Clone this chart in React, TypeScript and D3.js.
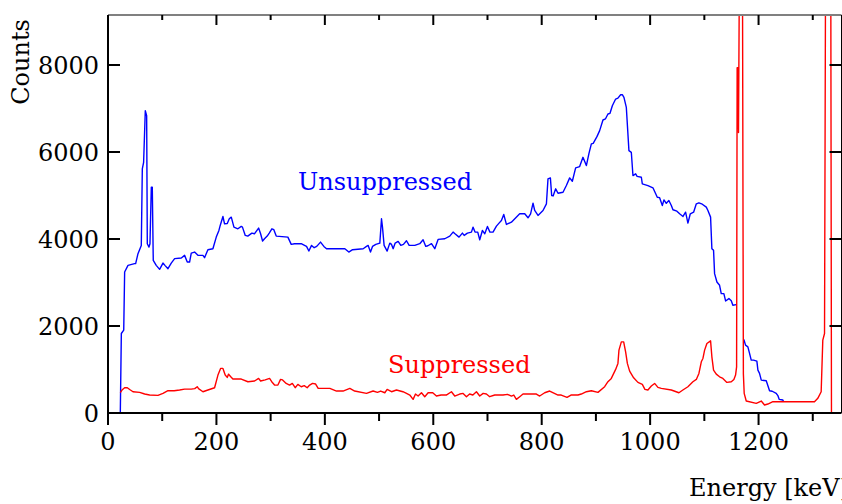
import React from "react";
import * as d3 from "d3";

// ---------- data ----------
const blueEnergy = [
  22.7, 24.6, 29, 30.7, 36.9, 49, 51, 55.3, 61.4, 63.3, 65.7, 68.8, 71.3, 72.5, 75.6, 77.4, 79.9, 81.7, 83.5, 89,
  95.2, 101.4, 105, 110.6, 116.7, 122.9, 135.2, 141.3, 146.2, 150.5, 153.6, 159.7, 165.9, 175.1, 178.1, 184.3, 193.5, 199.7, 204.6, 207,
  212, 215, 220, 223.7, 227.4, 232.3, 239.6, 245.8, 248, 253.2, 257.8, 265.4, 270.1, 277.8, 281.5, 285.1, 288.7, 293.7, 297.4, 302.3,
  305.9, 310.3, 331.8, 338, 344, 356.4, 362.5, 366.2, 370.5, 375.5, 380.3, 385, 392, 398.2, 403.1, 415.4, 436.9, 444.2, 451.1, 470.7,
  476.8, 479.9, 484.2, 487.9, 494, 501.4, 504.5, 506.3, 509.3, 514.9, 519.8, 523, 526, 529.7, 535.2, 540.1, 545, 550.6, 555.5, 565.9,
  575.1, 581.2, 586.2, 590, 596.7, 602.8, 608.9, 621.2, 630.4, 636.5, 640.1, 647.5, 653.7, 657, 663, 670.4, 673.3, 677, 682, 685.7,
  690.6, 695, 699.9, 704.5, 710.2, 716.5, 721.3, 725.7, 730, 734.9, 744.1, 759.4, 768.7, 774.8, 779.5, 784, 787.1, 793.2, 802.4, 808.7,
  811.6, 816, 818.4, 821, 825.8, 830.1, 839.3, 845.5, 851.6, 856.5, 862.6, 870, 876.1, 882.4, 887.2, 891.6, 895, 901.9, 906.9, 913,
  917.5, 922.2, 926, 930.3, 936.4, 940.6, 945.6, 948.7, 951.7, 956.1, 960.9, 965.3, 968.3, 973.3, 976, 983.8, 985.6, 995.9, 1005.2, 1013.2,
  1017.5, 1022.5, 1025.5, 1029.8, 1034.6, 1039.1, 1042.1, 1049.4, 1054.4, 1060.6, 1065.4, 1069.7, 1074.1, 1080.2, 1085.2, 1090, 1096.2, 1103.6, 1106.6, 1111.5,
  1113.9, 1117, 1118.9, 1123.2, 1128.1, 1131.2, 1136, 1139.2, 1145.3, 1149.7, 1152.6, 1158.8, 1166,
  1172.9, 1176, 1180.3, 1183.4, 1186.5, 1190.7, 1196.9, 1198.8, 1201.8, 1205, 1214.2, 1220.3, 1225.2, 1232.6, 1235.6, 1238, 1244.8, 1246.2,
];
const blueCounts: (number | null)[] = [
  0, 1828, 1904, 3241, 3394, 3433, 3433, 3663, 3853, 5612, 5764, 6950, 6835, 3892, 3814, 3892, 5190, 5190, 3509, 3394,
  3303, 3447, 3394, 3318, 3447, 3548, 3562, 3624, 3471, 3471, 3677, 3700, 3624, 3624, 3571, 3754, 3777, 4044, 4197, 4312,
  4518, 4350, 4358, 4465, 4503, 4273, 4235, 4289, 4273, 4083, 4067, 4136, 4120, 4251, 4120, 3953, 4006, 4067, 4136, 4235,
  4213, 4067, 4044, 3876, 3892, 3892, 3853, 3830, 3723, 3853, 3800, 3830, 3929, 3830, 3777, 3777, 3777, 3700, 3754, 3777,
  3830, 3853, 3700, 3830, 3876, 3906, 4465, 4273, 3853, 3723, 3906, 3876, 3777, 3906, 3945, 3853, 3876, 3960, 3853, 3853,
  3892, 3983, 3830, 3845, 3892, 3777, 3991, 4006, 4067, 4159, 4120, 4044, 4136, 4083, 4136, 4159, 4273, 4159, 4159, 3983,
  4197, 4120, 4289, 4159, 4159, 4296, 4365, 4427, 4564, 4335, 4388, 4580, 4580, 4488, 4580, 4823, 4656, 4541, 4656, 4809,
  5383, 5406, 5000, 4990, 5154, 5053, 5076, 5229, 5406, 5328, 5635, 5665, 5878, 5688, 5970, 6186, 6200, 6353, 6491, 6736,
  6760, 6874, 6890, 7064, 7218, 7240, 7317, 7317, 7255, 7025, 6032, 5993, 5459, 5498, 5440, 5420, 5268, 5229, 5177, 4961,
  4950, 4771, 4900, 4820, 4885, 4771, 4672, 4640, 4580, 4518, 4617, 4365, 4580, 4617, 4809, 4832, 4800, 4732, 4656, 4503,
  3777, 3739, 3204, 3011, 2936, 2745, 2745, 2576, 2631, 2580, 2477, 2493, null,
  1690, 1560, 1521, 1369, 1216, 1216, 1193, 986, 911, 757, 741, 511, 500, 452, 400, 314, 298, 259,
];

const redEnergy = [
  22.7, 25.8, 30.7, 35.6, 40, 46.1, 58.4, 67.6, 76.8, 92.2, 101.4, 110.6, 122, 132.1, 141.3, 153.6, 160, 164.6, 167, 175.1,
  184.3, 196.6, 202.8, 207.7, 212, 216.2, 219.9, 222.4, 226, 230.4, 245.8, 258.1, 270.4, 277.8, 281.5, 290, 298, 302, 307.2, 313.4,
  318.3, 322, 328.7, 334.9, 340, 345.3, 350.2, 356.4, 362, 367.4, 372, 377.3, 383, 387.7, 409.2, 421.5, 433.5, 446.1, 455, 476.8,
  489, 497, 503, 510.6, 514.9, 523, 532.1, 544, 550.6, 556.7, 562.8, 567.2, 572, 578.2, 584.3, 590.5, 599, 605.8, 614.5, 624,
  633.5, 639.6, 648.8, 655, 661.2, 667, 673, 679.6, 685.7, 692, 698, 704.1, 713.4, 728.6, 737, 744.1, 748.5, 753.3, 759.5, 765.5,
  790.2, 796.3, 805.5, 814.7, 830.1, 836, 846.7, 854, 866.9, 873, 882.4, 891.6, 903.8, 916.1, 922.2, 928.4, 936.4, 940.6, 942.5, 946.9,
  951.2, 954.8, 958, 962.2, 969.6, 977.5, 985.6, 990.4, 995.9, 1002.2, 1008.3, 1014.4, 1020.6, 1039.1, 1053.1, 1060.4, 1069.7, 1078.9, 1085.2, 1090,
  1094.4, 1097.4, 1100.5, 1104.7, 1111.5, 1113.9, 1117, 1122, 1128.1, 1134.2, 1141.6, 1149.7, 1154.5, 1157.6, 1159.5, 1160.5, 1162, 1163, 1165.5, 1170,
  1172, 1173.5, 1177.3, 1195.8, 1205, 1211, 1217.2, 1226.4, 1303.2, 1309.3, 1315.5, 1318.5, 1321.7, 1324, 1333, 1334.5,
];
const redCounts = [
  466, 528, 581, 581, 540, 489, 474, 436, 413, 405, 451, 512, 512, 528, 550, 550, 560, 604, 560, 489,
  528, 581, 872, 1025, 1025, 872, 818, 894, 840, 780, 780, 719, 735, 795, 735, 760, 795, 719, 642, 642,
  772, 760, 680, 642, 680, 581, 657, 604, 630, 581, 642, 680, 666, 566, 566, 505, 505, 566, 505, 451,
  505, 474, 505, 466, 543, 489, 528, 489, 451, 413, 314, 436, 390, 466, 375, 466, 466, 390, 413, 413,
  489, 390, 436, 451, 375, 436, 413, 489, 390, 451, 436, 375, 413, 413, 428, 390, 413, 314, 375, 436,
  436, 390, 466, 505, 413, 413, 360, 413, 413, 436, 489, 512, 474, 604, 719, 795, 1002, 1140, 1445, 1636,
  1636, 1406, 1140, 963, 810, 704, 658, 543, 528, 619, 680, 589, 566, 528, 466, 528, 604, 719, 772, 910,
  1177, 1254, 1445, 1598, 1659, 1292, 986, 894, 833, 795, 704, 719, 772, 872, 1062, 7940, 7940, 6450, 12000, 12000,
  900, 452, 275, 222, 275, 183, 206, 259, 259, 337, 489, 1674, 1828, 12000, 12000, 0,
];

const xTickValues = [0, 200, 400, 600, 800, 1000, 1200];
const yTickValues = [0, 2000, 4000, 6000, 8000];
const seriesLabels = ["Unsuppressed", "Suppressed"];
const axisLabels = ["Energy [keV]", "Counts"];

// ---------- layout ----------
const W = 842;
const H = 504;
const L = 108;
const R = 841.5;
const T = 15;
const B = 413;
const FONT = "'DejaVu Serif', serif";

export default function App() {
  const x = d3.scaleLinear().domain([0, 1353]).range([L, R]);
  const y = d3.scaleLinear().domain([0, 9150]).range([B, T]);

  const blueData = blueEnergy.map((e, i) => ({ e, c: blueCounts[i] }));
  const redData = redEnergy.map((e, i) => ({ e, c: redCounts[i] }));

  const line = d3
    .line<{ e: number; c: number | null }>()
    .defined((d) => d.c !== null)
    .x((d) => x(d.e))
    .y((d) => y(d.c as number));

  const minorX = d3.range(100, 1353, 200);

  return (
    <div style={{ position: "fixed", left: 0, top: 0, width: W, height: H, background: "#fff" }}>
      <svg width={W} height={H} style={{ display: "block" }} fontFamily={FONT}>
        <defs>
          <clipPath id="plotclip">
            <rect x={L} y={T} width={R - L} height={B - T} />
          </clipPath>
        </defs>

        <g clipPath="url(#plotclip)" fill="none" strokeWidth={1.4} strokeLinejoin="round">
          <path d={line(blueData) || ""} stroke="#0000ff" />
          <path d={line(redData) || ""} stroke="#ff0000" />
        </g>

        {/* frame */}
        <line x1={L} x2={R} y1={T} y2={T} stroke="#808080" strokeWidth={2} />
        <line x1={R} x2={R} y1={T} y2={B} stroke="#000" strokeWidth={1} />
        <line x1={L} x2={L} y1={T} y2={B + 1} stroke="#000" strokeWidth={2} />
        <line x1={L - 1} x2={R} y1={B} y2={B} stroke="#000" strokeWidth={2} />

        {/* x ticks */}
        {xTickValues.map((v) => (
          <g key={"xt" + v}>
            <line x1={x(v)} x2={x(v)} y1={B} y2={B + 12} stroke="#000" strokeWidth={2} />
            <line x1={x(v)} x2={x(v)} y1={T} y2={T + 10} stroke="#000" strokeWidth={2} />
            <text x={x(v)} y={450} textAnchor="middle" fontSize={24} fill="#000">
              {v}
            </text>
          </g>
        ))}
        {minorX.map((v) => (
          <g key={"xm" + v}>
            <line x1={x(v)} x2={x(v)} y1={B} y2={B + 8} stroke="#000" strokeWidth={2} />
            <line x1={x(v)} x2={x(v)} y1={T} y2={T + 5} stroke="#000" strokeWidth={2} />
          </g>
        ))}

        {/* y ticks */}
        {yTickValues.map((v) => (
          <g key={"yt" + v}>
            {v > 0 && (
              <>
                <line x1={L} x2={L + 12} y1={y(v)} y2={y(v)} stroke="#000" strokeWidth={2} />
                <line x1={R - 12} x2={R} y1={y(v)} y2={y(v)} stroke="#000" strokeWidth={2} />
              </>
            )}
            <text x={99} y={y(v) + 9} textAnchor="end" fontSize={24} fill="#000">
              {v}
            </text>
          </g>
        ))}

        {/* axis titles */}
        <text x={689} y={496} fontSize={24} fill="#000">
          {axisLabels[0]}
        </text>
        <text
          transform={`translate(29, 62) rotate(-90)`}
          textAnchor="middle"
          fontSize={24}
          fill="#000"
        >
          {axisLabels[1]}
        </text>

        {/* series labels */}
        <text x={298} y={190} fontSize={24} fill="#0000ff">
          {seriesLabels[0]}
        </text>
        <text x={388} y={373} fontSize={24} fill="#ff0000">
          {seriesLabels[1]}
        </text>
      </svg>
    </div>
  );
}
